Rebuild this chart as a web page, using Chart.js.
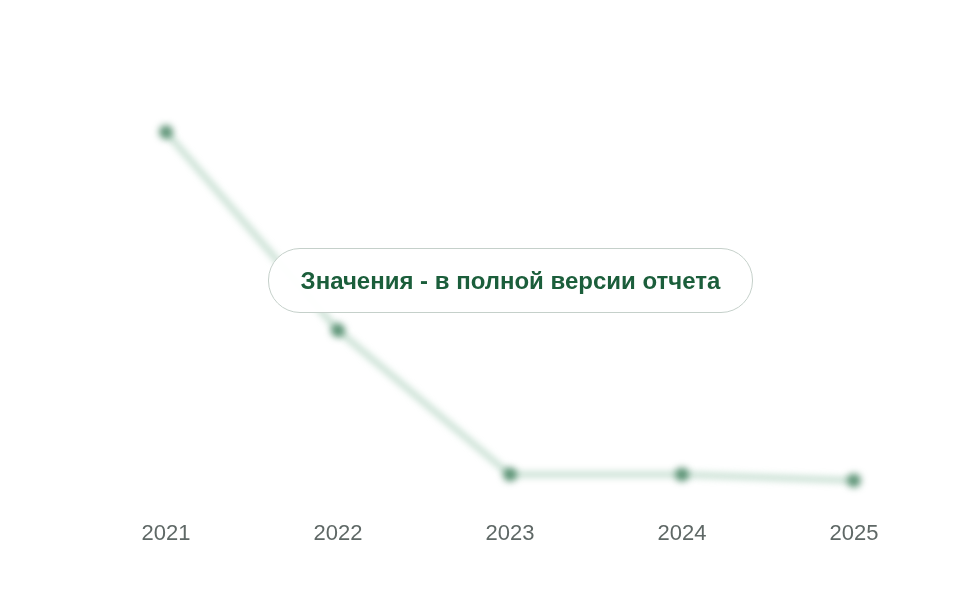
<!DOCTYPE html>
<html>
<head>
<meta charset="utf-8">
<script src="https://cdn.jsdelivr.net/npm/chart.js@4"></script>
<style>
  html, body { margin: 0; padding: 0; background: #fff; }
  #wrap { position: relative; width: 960px; height: 600px; }
  #overlay {
    position: absolute; left: 268px; top: 248px; width: 485px; height: 65px;
    box-sizing: border-box; border: 1.5px solid #c5d0ca; border-radius: 32px;
    background: rgba(255,255,255,0.96);
    display: flex; align-items: center; justify-content: center;
    font-family: "Liberation Sans", Arial, sans-serif; font-weight: bold;
    font-size: 24px; color: #1b5e3b;
  }
</style>
</head>
<body>
<div id="wrap">
  <canvas id="c" width="960" height="600"></canvas>
  <div id="overlay">Значения - в полной версии отчета</div>
</div>
<script>
const years = ["2021", "2022", "2023", "2024", "2025"];
const values = [92, 42.5, 6.5, 6.5, 5];

const blurPlugin = {
  id: 'blurDatasets',
  beforeDatasetsDraw(chart) { chart.ctx.save(); chart.ctx.filter = 'blur(3.5px)'; },
  afterDatasetsDraw(chart) { chart.ctx.restore(); }
};

new Chart(document.getElementById('c'), {
  type: 'line',
  data: {
    labels: years,
    datasets: [{
      data: values,
      borderColor: 'rgba(150,195,170,0.65)',
      borderWidth: 5,
      pointRadius: 7,
      pointBackgroundColor: 'rgba(60,125,90,0.8)',
      pointBorderWidth: 0,
      tension: 0,
      clip: false
    }]
  },
  options: {
    responsive: false,
    animation: false,
    layout: { padding: { left: 166, right: 106, top: 100, bottom: 41 } },
    plugins: { legend: { display: false }, tooltip: { enabled: false } },
    scales: {
      x: {
        offset: false,
        grid: { display: false },
        border: { display: false },
        ticks: { color: '#5f6866', font: { family: 'Liberation Sans', size: 22 }, padding: 12 }
      },
      y: {
        display: false,
        min: 0, max: 100
      }
    }
  },
  plugins: [blurPlugin]
});
</script>
</body>
</html>
